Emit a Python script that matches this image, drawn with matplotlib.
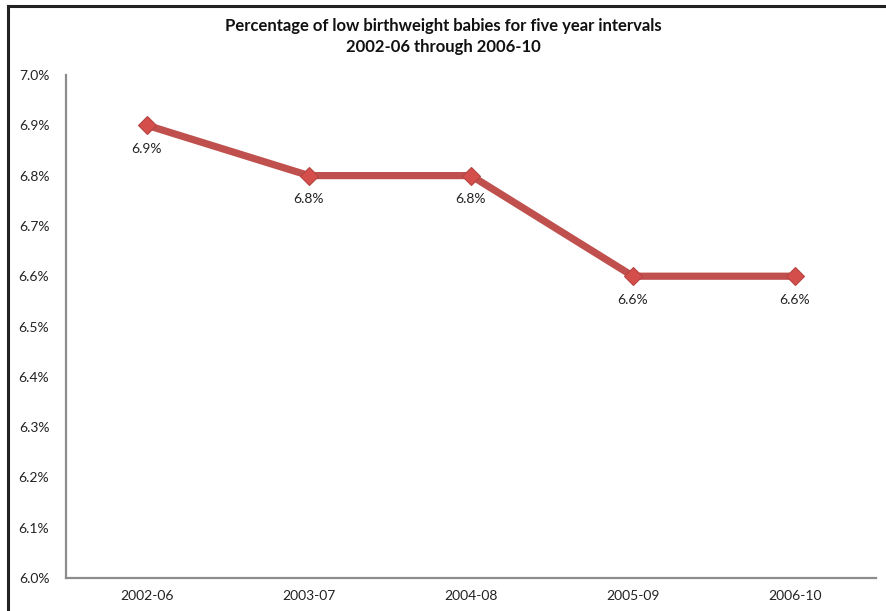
import matplotlib.pyplot as plt
from matplotlib.lines import Line2D
from matplotlib.ticker import FuncFormatter

periods = ["2002-06", "2003-07", "2004-08", "2005-09", "2006-10"]
pct = [6.9, 6.8, 6.8, 6.6, 6.6]
yticks = [6.0, 6.1, 6.2, 6.3, 6.4, 6.5, 6.6, 6.7, 6.8, 6.9, 7.0]

plt.rcParams['font.family'] = ['Lato', 'DejaVu Sans']

fig = plt.figure(figsize=(8.86, 6.11), dpi=100)
ax = fig.add_axes([66/886, 1 - 578/611, 810/886, (578 - 75)/611])

x = list(range(len(periods)))
ax.plot(x, pct, color='#c0504d', lw=5.2, solid_capstyle='butt', zorder=2)
ax.plot(x, pct, ls='none', marker='D', ms=9.5, mfc='#d44f4b', mec='#b54440',
        mew=0.8, zorder=3)

for xi, v in zip(x, pct):
    ax.annotate(f"{v:.1f}%", (xi, v), xytext=(0, -17), textcoords='offset points',
                ha='center', va='center', fontsize=10, color='#222222')

ax.set_xlim(-0.5, len(periods) - 0.5)
ax.set_ylim(6.0, 7.0)
ax.set_xticks(x)
ax.set_xticklabels(periods)
ax.set_yticks(yticks)
ax.yaxis.set_major_formatter(FuncFormatter(lambda v, p: f"{v:.1f}%"))
ax.tick_params(length=0, labelsize=10, labelcolor='#222222')
ax.tick_params(axis='y', pad=12)
ax.tick_params(axis='x', pad=9)

for s in ['top', 'right']:
    ax.spines[s].set_visible(False)
for s in ['left', 'bottom']:
    ax.spines[s].set_color('#8c8c8c')
    ax.spines[s].set_linewidth(1.6)

fig.text(0.5, 1 - 26/611, "Percentage of low birthweight babies for five year intervals",
         ha='center', va='center', fontsize=12, fontweight='bold', color='#111111')
fig.text(0.5, 1 - 47/611, "2002-06 through 2006-10",
         ha='center', va='center', fontsize=12, fontweight='bold', color='#111111')

# frame lines along the top and left edges
fig.add_artist(Line2D([8/886, 1], [1 - 6/611, 1 - 6/611], color='#222222', lw=2.2))
fig.add_artist(Line2D([8/886, 8/886], [0, 1 - 6/611], color='#222222', lw=2.2))

fig.savefig("out.png", dpi=100)
